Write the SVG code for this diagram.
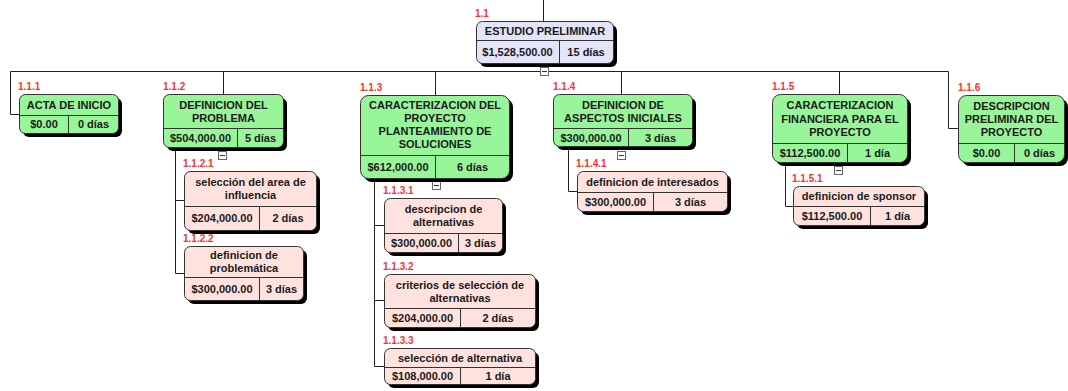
<svg xmlns="http://www.w3.org/2000/svg" width="1068" height="391" viewBox="0 0 1068 391">
  <style>
    .shadow { fill: #000; }
    .box { stroke: #333; stroke-width: 1; }
    .root { fill: #e4e4f8; }
    .sum { fill: #99f599; }
    .task { fill: #ffe2de; }
    .div { stroke: #333; stroke-width: 1; fill: none; }
    .t { font-family: "Liberation Sans", Arial, sans-serif; font-size: 11px; font-weight: bold; fill: #1a1a1a; text-anchor: middle; }
    .lbl { font-family: "Liberation Sans", Arial, sans-serif; font-size: 10px; font-weight: bold; fill: #ff3030; }
    .wire { stroke: #222; stroke-width: 1; fill: none; }
    .tog { fill: #fff; stroke: #666; stroke-width: 1; }
    .tog-m { stroke: #333; stroke-width: 1; }
  </style>

  <!-- connectors -->
  <g id="connectors">
    <path class="wire" d="M543.5 0 V21"/>
    <path class="wire" d="M10.5 71.5 H948.5"/>
    <path class="wire" d="M10.5 71.5 V114.5 H19"/>
    <path class="wire" d="M223.5 71.5 V94"/>
    <path class="wire" d="M435.5 71.5 V95"/>
    <path class="wire" d="M621.5 71.5 V94"/>
    <path class="wire" d="M839.5 71.5 V94"/>
    <path class="wire" d="M948.5 71.5 V128.5 H958"/>
    <path class="wire" d="M175.5 147 V273.5 H184 M175.5 200.5 H184"/>
    <path class="wire" d="M374.5 178 V366.5 H384 M374.5 225.5 H384 M374.5 300.5 H384"/>
    <path class="wire" d="M568.5 146 V191.5 H577"/>
    <path class="wire" d="M785.5 162 V206.5 H793"/>
    <!-- collapse toggles -->
    <g>
      <rect class="tog" x="540.5" y="67.5" width="8" height="8"/><path class="tog-m" d="M542 71.5 H547"/>
      <rect class="tog" x="218.5" y="151.5" width="8" height="8"/><path class="tog-m" d="M220 155.5 H225"/>
      <rect class="tog" x="432.5" y="181.5" width="8" height="8"/><path class="tog-m" d="M434 185.5 H439"/>
      <rect class="tog" x="617.5" y="151.5" width="8" height="8"/><path class="tog-m" d="M619 155.5 H624"/>
      <rect class="tog" x="834.5" y="166.5" width="8" height="8"/><path class="tog-m" d="M836 170.5 H841"/>
    </g>
  </g>

  <!-- 1.1 -->
  <g id="n1_1">
    <text class="lbl" x="475" y="17">1.1</text>
    <rect class="shadow" x="480" y="25" width="137" height="42" rx="6"/>
    <rect class="box root" x="476.5" y="21.5" width="137" height="42" rx="6"/>
    <path class="div" d="M476.5 40.5 H613.5 M559.5 40.5 V63.5"/>
    <text class="t" x="545" y="34.5">ESTUDIO PRELIMINAR</text>
    <text class="t" x="517.5" y="55.5">$1,528,500.00</text>
    <text class="t" x="586" y="55.5">15 días</text>
  </g>

  <!-- 1.1.1 -->
  <g id="n1_1_1">
    <text class="lbl" x="18" y="90">1.1.1</text>
    <rect class="shadow" x="23" y="98" width="99" height="39" rx="6"/>
    <rect class="box sum" x="19.5" y="94.5" width="99" height="39" rx="6"/>
    <path class="div" d="M19.5 115.5 H118.5 M68.5 115.5 V133.5"/>
    <text class="t" x="69" y="108.5">ACTA DE INICIO</text>
    <text class="t" x="44" y="128">$0.00</text>
    <text class="t" x="93.5" y="128">0 días</text>
  </g>

  <!-- 1.1.2 -->
  <g id="n1_1_2">
    <text class="lbl" x="163" y="90">1.1.2</text>
    <rect class="shadow" x="167" y="98" width="120" height="53" rx="6"/>
    <rect class="box sum" x="163.5" y="94.5" width="120" height="53" rx="6"/>
    <path class="div" d="M163.5 128.5 H283.5 M237.5 128.5 V147.5"/>
    <text class="t" x="223.5" y="108.5">DEFINICION DEL</text>
    <text class="t" x="223.5" y="121.8">PROBLEMA</text>
    <text class="t" x="200.5" y="141.8">$504,000.00</text>
    <text class="t" x="260.5" y="141.8">5 días</text>
  </g>

  <!-- 1.1.2.1 -->
  <g id="n1_1_2_1">
    <text class="lbl" x="183" y="167">1.1.2.1</text>
    <rect class="shadow" x="188" y="175" width="132" height="59" rx="6"/>
    <rect class="box task" x="184.5" y="171.5" width="132" height="59" rx="6"/>
    <path class="div" d="M184.5 206.5 H316.5 M259.5 206.5 V230.5"/>
    <text class="t" x="250.5" y="186">selección del area de</text>
    <text class="t" x="250.5" y="199.3">influencia</text>
    <text class="t" x="222" y="222.3">$204,000.00</text>
    <text class="t" x="288" y="222.3">2 días</text>
  </g>

  <!-- 1.1.2.2 -->
  <g id="n1_1_2_2">
    <text class="lbl" x="183" y="242">1.1.2.2</text>
    <rect class="shadow" x="188" y="250" width="119" height="54" rx="6"/>
    <rect class="box task" x="184.5" y="246.5" width="119" height="54" rx="6"/>
    <path class="div" d="M184.5 277.5 H303.5 M259.5 277.5 V300.5"/>
    <text class="t" x="244" y="259">definicion de</text>
    <text class="t" x="244" y="272.3">problemática</text>
    <text class="t" x="222" y="292.8">$300,000.00</text>
    <text class="t" x="281.5" y="292.8">3 días</text>
  </g>

  <!-- 1.1.3 -->
  <g id="n1_1_3">
    <text class="lbl" x="360" y="91">1.1.3</text>
    <rect class="shadow" x="364" y="99" width="149" height="83" rx="8"/>
    <rect class="box sum" x="360.5" y="95.5" width="149" height="83" rx="8"/>
    <path class="div" d="M360.5 155.5 H509.5 M435.5 155.5 V178.5"/>
    <text class="t" x="435" y="108.5">CARACTERIZACION DEL</text>
    <text class="t" x="435" y="121.5">PROYECTO</text>
    <text class="t" x="435" y="134.5">PLANTEAMIENTO DE</text>
    <text class="t" x="435" y="147.5">SOLUCIONES</text>
    <text class="t" x="398" y="171">$612,000.00</text>
    <text class="t" x="472.5" y="171">6 días</text>
  </g>

  <!-- 1.1.3.1 -->
  <g id="n1_1_3_1">
    <text class="lbl" x="383" y="194">1.1.3.1</text>
    <rect class="shadow" x="388" y="202" width="118" height="54" rx="6"/>
    <rect class="box task" x="384.5" y="198.5" width="118" height="54" rx="6"/>
    <path class="div" d="M384.5 233.5 H502.5 M458.5 233.5 V252.5"/>
    <text class="t" x="443.5" y="213">descripcion de</text>
    <text class="t" x="443.5" y="226.3">alternativas</text>
    <text class="t" x="421.5" y="246.8">$300,000.00</text>
    <text class="t" x="480.5" y="246.8">3 días</text>
  </g>

  <!-- 1.1.3.2 -->
  <g id="n1_1_3_2">
    <text class="lbl" x="383" y="270">1.1.3.2</text>
    <rect class="shadow" x="388" y="278" width="151" height="53" rx="6"/>
    <rect class="box task" x="384.5" y="274.5" width="151" height="53" rx="6"/>
    <path class="div" d="M384.5 308.5 H535.5 M460.5 308.5 V327.5"/>
    <text class="t" x="460" y="288.5">criterios de selección de</text>
    <text class="t" x="460" y="301.8">alternativas</text>
    <text class="t" x="422.5" y="321.8">$204,000.00</text>
    <text class="t" x="498" y="321.8">2 días</text>
  </g>

  <!-- 1.1.3.3 -->
  <g id="n1_1_3_3">
    <text class="lbl" x="383" y="344">1.1.3.3</text>
    <rect class="shadow" x="388" y="352" width="151" height="36" rx="6"/>
    <rect class="box task" x="384.5" y="348.5" width="151" height="36" rx="6"/>
    <path class="div" d="M384.5 367.5 H535.5 M460.5 367.5 V384.5"/>
    <text class="t" x="460" y="361.8">selección de alternativa</text>
    <text class="t" x="422.5" y="380">$108,000.00</text>
    <text class="t" x="498" y="380">1 día</text>
  </g>

  <!-- 1.1.4 -->
  <g id="n1_1_4">
    <text class="lbl" x="553" y="90">1.1.4</text>
    <rect class="shadow" x="557" y="98" width="139" height="52" rx="6"/>
    <rect class="box sum" x="553.5" y="94.5" width="139" height="52" rx="6"/>
    <path class="div" d="M553.5 128.5 H692.5 M628.5 128.5 V146.5"/>
    <text class="t" x="623" y="108.5">DEFINICION DE</text>
    <text class="t" x="623" y="121.8">ASPECTOS INICIALES</text>
    <text class="t" x="591" y="141.5">$300,000.00</text>
    <text class="t" x="660.5" y="141.5">3 días</text>
  </g>

  <!-- 1.1.4.1 -->
  <g id="n1_1_4_1">
    <text class="lbl" x="576" y="167">1.1.4.1</text>
    <rect class="shadow" x="581" y="175" width="150" height="40" rx="6"/>
    <rect class="box task" x="577.5" y="171.5" width="150" height="40" rx="6"/>
    <path class="div" d="M577.5 192.5 H727.5 M653.5 192.5 V211.5"/>
    <text class="t" x="652.5" y="185.8">definicion de interesados</text>
    <text class="t" x="615.5" y="205.8">$300,000.00</text>
    <text class="t" x="690.5" y="205.8">3 días</text>
  </g>

  <!-- 1.1.5 -->
  <g id="n1_1_5">
    <text class="lbl" x="772" y="90">1.1.5</text>
    <rect class="shadow" x="776" y="98" width="135" height="68" rx="8"/>
    <rect class="box sum" x="772.5" y="94.5" width="135" height="68" rx="8"/>
    <path class="div" d="M772.5 143.5 H907.5 M847.5 143.5 V162.5"/>
    <text class="t" x="840" y="109.3">CARACTERIZACION</text>
    <text class="t" x="840" y="122.6">FINANCIERA PARA EL</text>
    <text class="t" x="840" y="135.9">PROYECTO</text>
    <text class="t" x="810" y="156.8">$112,500.00</text>
    <text class="t" x="877.5" y="156.8">1 día</text>
  </g>

  <!-- 1.1.5.1 -->
  <g id="n1_1_5_1">
    <text class="lbl" x="792" y="182">1.1.5.1</text>
    <rect class="shadow" x="797" y="190" width="131" height="39" rx="6"/>
    <rect class="box task" x="793.5" y="186.5" width="131" height="39" rx="6"/>
    <path class="div" d="M793.5 206.5 H924.5 M870.5 206.5 V225.5"/>
    <text class="t" x="859" y="200.3">definicion de sponsor</text>
    <text class="t" x="832" y="220">$112,500.00</text>
    <text class="t" x="897.5" y="220">1 día</text>
  </g>

  <!-- 1.1.6 -->
  <g id="n1_1_6">
    <text class="lbl" x="958" y="91">1.1.6</text>
    <rect class="shadow" x="962" y="99" width="106" height="67" rx="8"/>
    <rect class="box sum" x="958.5" y="95.5" width="106" height="67" rx="8"/>
    <path class="div" d="M958.5 143.5 H1064.5 M1014.5 143.5 V162.5"/>
    <text class="t" x="1011.5" y="109.8">DESCRIPCION</text>
    <text class="t" x="1011.5" y="123.1">PRELIMINAR DEL</text>
    <text class="t" x="1011.5" y="136.4">PROYECTO</text>
    <text class="t" x="986.5" y="156.8">$0.00</text>
    <text class="t" x="1039.5" y="156.8">0 días</text>
  </g>
</svg>
